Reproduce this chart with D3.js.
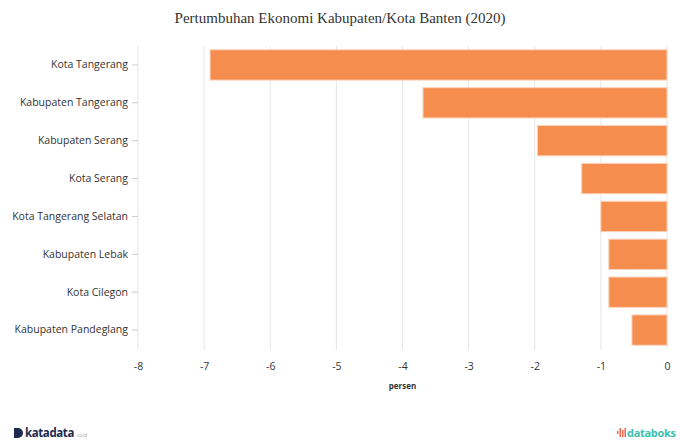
<!DOCTYPE html>
<html><head><meta charset="utf-8">
<script src="https://cdn.jsdelivr.net/npm/d3@7"></script>
<style>body{margin:0;background:#fff;}svg{display:block;}</style>
</head><body>
<svg id="c" width="680" height="441"></svg>
<script>
const categories = ["Kota Tangerang","Kabupaten Tangerang","Kabupaten Serang","Kota Serang","Kota Tangerang Selatan","Kabupaten Lebak","Kota Cilegon","Kabupaten Pandeglang"];
const values = [-6.91,-3.69,-1.96,-1.29,-1.00,-0.88,-0.88,-0.53];
const xTicks = [-8,-7,-6,-5,-4,-3,-2,-1,0];
const title = "Pertumbuhan Ekonomi Kabupaten/Kota Banten (2020)";
const xLabel = "persen";

const svg = d3.select("#c");
const m = {l:138, r:13, t:46, b:92};
const W = 680, H = 441;
const x = d3.scaleLinear().domain([-8,0]).range([m.l, W-m.r]);
const y = d3.scaleBand().domain(categories).range([m.t, H-m.b]).paddingInner(0.2).paddingOuter(0.1);

svg.append("text").attr("x",340).attr("y",23).attr("text-anchor","middle")
  .attr("font-family","'Liberation Serif','Times New Roman',serif").attr("font-size",15).attr("fill","#333").text(title);

// grid
svg.append("g").selectAll("line").data(xTicks).join("line")
  .attr("x1",d=>x(d)).attr("x2",d=>x(d)).attr("y1",m.t).attr("y2",H-m.b+1)
  .attr("stroke","#e6e6e6").attr("stroke-width",1);

// bars
svg.append("g").selectAll("rect").data(values).join("rect")
  .attr("x",d=>x(d)).attr("width",d=>x(0)-x(d))
  .attr("y",(d,i)=>y(categories[i])).attr("height",y.bandwidth())
  .attr("fill","#f58d4f").attr("stroke","#fbd2b9").attr("stroke-width",1);

// y axis
const ya = svg.append("g").attr("transform",`translate(${m.l},0)`).call(d3.axisLeft(y).tickSize(6).tickPadding(4));
ya.select(".domain").remove();
ya.selectAll(".tick line").attr("stroke","#ccc");
ya.selectAll("text").attr("font-family","'Open Sans',sans-serif").attr("font-size",10.5).attr("fill","#333");

// x axis
const xa = svg.append("g").attr("transform",`translate(0,${H-m.b})`).call(d3.axisBottom(x).tickValues(xTicks).tickFormat(d=>String(d)).tickSize(0).tickPadding(14));
xa.select(".domain").remove();
xa.selectAll("text").attr("font-family","'Open Sans',sans-serif").attr("font-size",10.5).attr("fill","#333");

svg.append("text").attr("x",(x(-8)+x(0))/2).attr("y",389).attr("text-anchor","middle")
  .attr("font-family","'Open Sans',sans-serif").attr("font-size",8).attr("font-weight","bold").attr("fill","#333").text(xLabel);

// footer logos
const f = svg.append("g");
f.append("path").attr("d","M14,428 h4 a5,5 0 0 1 0,10 h-4 z").attr("fill","#1d2b4f");
f.append("text").attr("x",25).attr("y",437).attr("font-family","'Open Sans',sans-serif").attr("font-size",11.5).attr("font-weight","bold").attr("fill","#1d2b4f").attr("letter-spacing",-0.4).text("katadata");
f.append("text").attr("x",77).attr("y",437).attr("font-family","'Open Sans',sans-serif").attr("font-size",4.5).attr("fill","#999").text("co.id");
[[617,431,3],[619.5,428,9],[622,430,7],[624.5,428,9]].forEach(([xx,yy,h])=>{
  f.append("rect").attr("x",xx).attr("y",yy).attr("width",1.5).attr("height",h).attr("fill","#f0664a");
});
f.append("text").attr("x",627).attr("y",437).attr("font-family","'Open Sans',sans-serif").attr("font-size",11).attr("font-weight","bold").attr("letter-spacing",-0.3).attr("fill","#3cbfae").text("databoks");
</script>
</body></html>
